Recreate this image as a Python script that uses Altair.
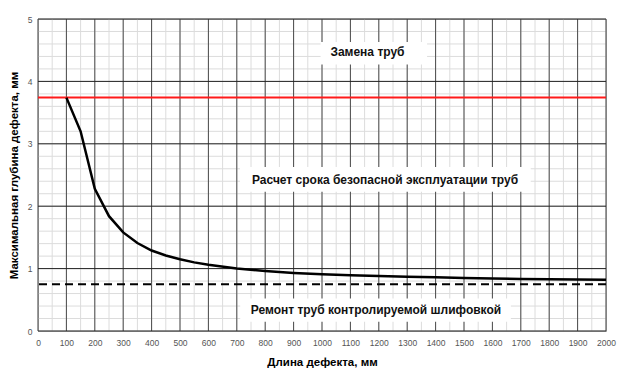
import altair as alt
import pandas as pd

# Curve data
length_mm = [100, 150, 200, 250, 300, 350, 400, 450, 500, 550, 600, 700, 800, 900,
             1000, 1100, 1200, 1300, 1400, 1500, 1600, 1700, 1800, 1900, 2000]
depth_mm = [3.74, 3.20, 2.28, 1.84, 1.58, 1.41, 1.29, 1.21, 1.15, 1.10, 1.06, 1.00, 0.96, 0.93,
            0.91, 0.895, 0.88, 0.87, 0.86, 0.85, 0.84, 0.835, 0.83, 0.825, 0.82]

upper_limit = 3.74   # red line
lower_limit = 0.75   # dashed line

# Zone labels
label_text = ["Замена труб", "Расчет срока безопасной эксплуатации труб",
              "Ремонт труб контролируемой шлифовкой"]
label_x = [1160, 1222, 1190]
label_y = [4.47, 2.42, 0.33]
box_x1 = [995, 711, 712]
box_x2 = [1370, 1735, 1665]
box_y1 = [4.27, 2.23, 0.15]
box_y2 = [4.63, 2.63, 0.52]

# Grid / tick values
x_minor = list(range(0, 2001, 50))
x_major = list(range(0, 2001, 100))
y_minor = [round(i * 0.2, 1) for i in range(26)]
y_major = [0, 1, 2, 3, 4, 5]

xs = alt.Scale(domain=[0, 2000], nice=False, zero=False)
ys = alt.Scale(domain=[0, 5], nice=False)

x_axis = alt.Axis(
    values=x_major, format="d", title="Длина дефекта, мм", grid=False, ticks=False, domain=False,
    labelFont="Liberation Sans", labelFontSize=8.5, labelColor="#555555", labelPadding=7,
    titleFont="Liberation Sans", titleFontSize=11.5, titleFontWeight="bold", titleColor="black",
    titlePadding=10, labelFlush=False)
y_axis = alt.Axis(
    values=y_major, format="d", title="Максимальная глубина дефекта, мм", grid=False, ticks=False,
    domain=False,
    labelFont="Liberation Sans", labelFontSize=8.5, labelColor="#555555", labelPadding=6,
    titleFont="Liberation Sans", titleFontSize=11.5, titleFontWeight="bold", titleColor="black",
    titlePadding=8, labelFlush=False)

curve_df = pd.DataFrame({"x": length_mm, "y": depth_mm})
labels_df = pd.DataFrame({"t": label_text, "x": label_x, "y": label_y,
                          "x1": box_x1, "x2": box_x2, "y1": box_y1, "y2": box_y2})


def X(f):
    return alt.X(f, type="quantitative", scale=xs, axis=x_axis)


def Y(f):
    return alt.Y(f, type="quantitative", scale=ys, axis=y_axis)


xgm = alt.Chart(pd.DataFrame({"v": x_minor})).mark_rule(color="#dcdcdc", strokeWidth=1).encode(x=X("v"))
ygm = alt.Chart(pd.DataFrame({"v": y_minor})).mark_rule(color="#dcdcdc", strokeWidth=1).encode(y=Y("v"))
xgM = alt.Chart(pd.DataFrame({"v": x_major})).mark_rule(color="#4a4a4a", strokeWidth=1).encode(x=X("v"))
ygM = alt.Chart(pd.DataFrame({"v": y_major})).mark_rule(color="#222222", strokeWidth=1).encode(y=Y("v"))

boxes = alt.Chart(labels_df).mark_rect(color="white").encode(
    x=X("x1"), x2="x2", y=Y("y1"), y2="y2")

texts = alt.Chart(labels_df).mark_text(font="Liberation Sans", fontWeight="bold", fontSize=12,
                                       color="#111111").encode(x=X("x"), y=Y("y"), text="t:N")

red = alt.Chart(pd.DataFrame({"v": [upper_limit]})).mark_rule(color="#ff1a1a", strokeWidth=2).encode(y=Y("v"))
dash = alt.Chart(pd.DataFrame({"v": [lower_limit]})).mark_rule(
    color="black", strokeWidth=2, strokeDash=[8, 5]).encode(y=Y("v"))

curve = alt.Chart(curve_df).mark_line(color="black", strokeWidth=2.5).encode(x=X("x"), y=Y("y"))

chart = alt.layer(xgm, ygm, xgM, ygM, boxes, red, dash, curve, texts).properties(
    width=568, height=312,
    autosize="none",
    padding={"left": 30, "top": 11, "right": 11, "bottom": 40},
).configure_view(stroke="#999999", strokeWidth=1)

chart.save("out.html", embed_options={"renderer": "svg", "actions": False})
